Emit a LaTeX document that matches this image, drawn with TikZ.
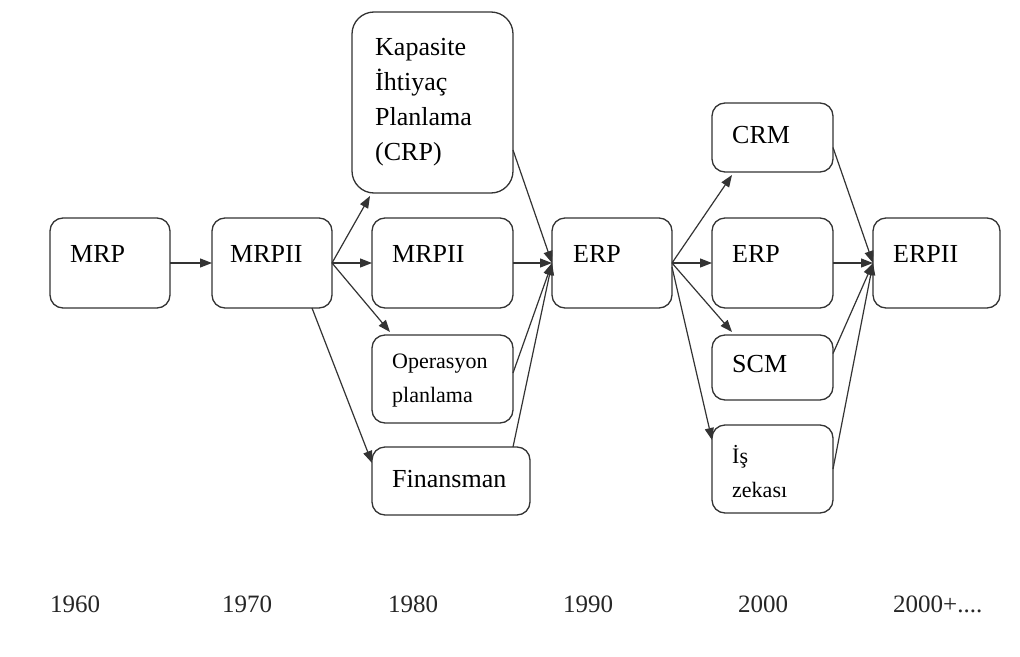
\documentclass[tikz,border=0pt]{standalone}
\usepackage{fontspec}
\setmainfont{Liberation Serif}
\usetikzlibrary{arrows.meta,calc}
\definecolor{ln}{HTML}{333333}
\tikzset{
  box/.style={draw=ln, line width=1.3pt, rounded corners=13pt, fill=white, inner sep=0pt, outer sep=0pt, anchor=north west},
  lbl/.style={anchor=base west, inner sep=0pt, align=left, text=black, font=\fontsize{26}{35}\selectfont},
  small/.style={font=\fontsize{22}{34}\selectfont},
  yr/.style={anchor=base west, inner sep=0pt, text=black!85, font=\fontsize{25}{28}\selectfont},
  arr/.style={draw=ln, line width=1.2pt, -{Triangle[length=12pt,width=9pt]}},
}
\begin{document}
\begin{tikzpicture}[x=1pt,y=-1pt]
\useasboundingbox[fill=white] (0,0) rectangle (1020,656);
% boxes
\node[box, minimum width=120pt, minimum height=90pt] (mrp) at (50,218) {};
\node[box, minimum width=120pt, minimum height=90pt] (mrpii) at (212,218) {};
\node[box, minimum width=161pt, minimum height=181pt, rounded corners=22pt] (kap) at (352,12) {};
\node[box, minimum width=141pt, minimum height=90pt] (mrp2) at (372,218) {};
\node[box, minimum width=141pt, minimum height=88pt] (ops) at (372,335) {};
\node[box, minimum width=158pt, minimum height=68pt] (fin) at (372,447) {};
\node[box, minimum width=120pt, minimum height=90pt] (erp) at (552,218) {};
\node[box, minimum width=121pt, minimum height=69pt] (crm) at (712,103) {};
\node[box, minimum width=121pt, minimum height=90pt] (erp2) at (712,218) {};
\node[box, minimum width=121pt, minimum height=65pt] (scm) at (712,335) {};
\node[box, minimum width=121pt, minimum height=88pt] (isz) at (712,425) {};
\node[box, minimum width=127pt, minimum height=90pt] (erpii) at (873,218) {};
% labels (multi-line labels are placed by their last baseline)
\node[lbl] (tmrp) at (70,262) {MRP};
\node[lbl] (tmrpii) at (230,262) {MRPII};
\node[lbl] (tkap) at (375,160) {Kapasite\\İhtiyaç\\Planlama\\(CRP)};
\node[lbl] (tmrp2) at (392,262) {MRPII};
\node[lbl, small] (tops) at (392,402) {Operasyon\\planlama};
\node[lbl] (tfin) at (392,487) {Finansman};
\node[lbl] (terp) at (573,262) {ERP};
\node[lbl] (tcrm) at (732,143) {CRM};
\node[lbl] (terp2) at (732,262) {ERP};
\node[lbl] (tscm) at (732,372) {SCM};
\node[lbl, small] (tisz) at (732,497) {İş\\zekası};
\node[lbl] (terpii) at (893,262) {ERPII};
% years
\node[yr] (y1) at (50,612) {1960};
\node[yr] (y2) at (222,612) {1970};
\node[yr] (y3) at (388,612) {1980};
\node[yr] (y4) at (563,612) {1990};
\node[yr] (y5) at (738,612) {2000};
\node[yr] (y6) at (893,612) {2000+....};
% connectors
\draw[arr] (mrp.east) -- (mrpii.west);
\draw[arr] (mrpii.east) -- ($(kap.south west)+(18,3)$);
\draw[arr] (mrpii.east) -- (mrp2.west);
\draw[arr] (mrpii.east) -- ($(ops.north west)+(18,-3)$);
\draw[arr] ($(mrpii.south east)+(-20,0)$) -- ($(fin.north west)+(0,16)$);
\draw[arr] ($(kap.south east)+(0,-43)$) -- (erp.west);
\draw[arr] (mrp2.east) -- (erp.west);
\draw[arr] ($(ops.east)+(0,-6)$) -- (erp.west);
\draw[arr] ($(fin.north east)+(-17,0)$) -- (erp.west);
\draw[arr] (erp.east) -- ($(crm.south west)+(20,3)$);
\draw[arr] (erp.east) -- (erp2.west);
\draw[arr] (erp.east) -- ($(scm.north west)+(20,-3)$);
\draw[arr] ($(erp.east)+(0,4)$) -- ($(isz.north west)+(0,15)$);
\draw[arr] ($(crm.east)+(0,10)$) -- (erpii.west);
\draw[arr] (erp2.east) -- (erpii.west);
\draw[arr] ($(scm.east)+(0,-14)$) -- (erpii.west);
\draw[arr] (isz.east) -- (erpii.west);
\end{tikzpicture}
\end{document}
